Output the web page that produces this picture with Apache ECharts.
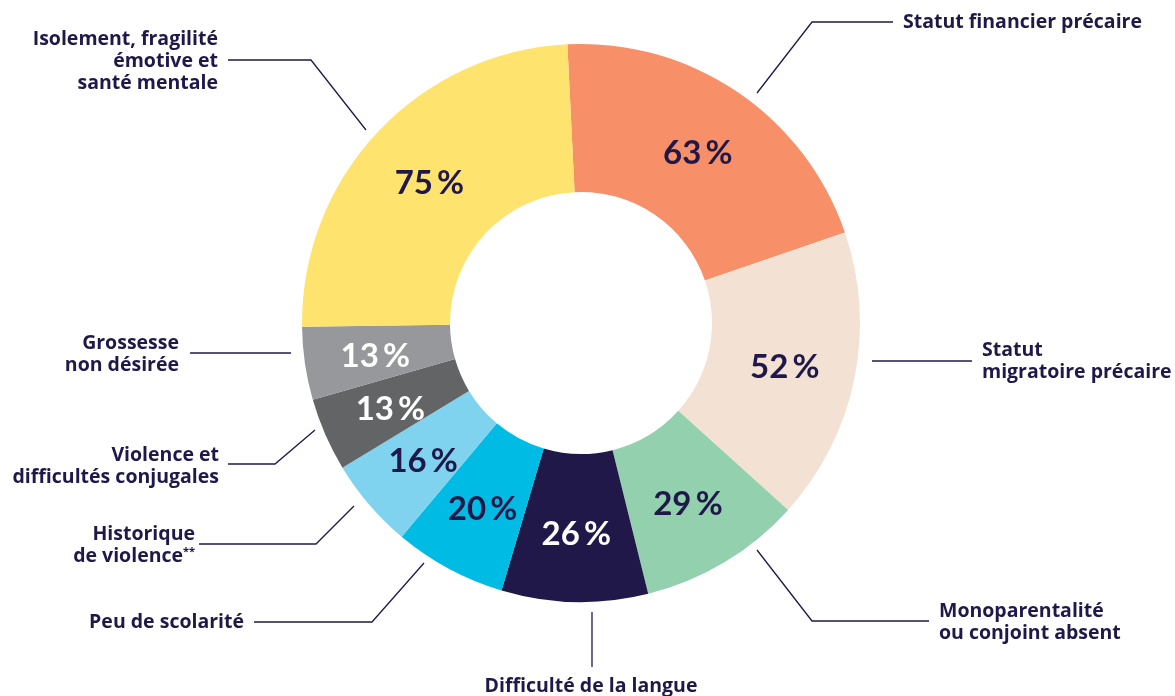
<!DOCTYPE html>
<html>
<head>
<meta charset="utf-8">
<script src="https://cdn.jsdelivr.net/npm/echarts@6/dist/echarts.min.js"></script>
<style>
  html, body { margin: 0; padding: 0; background: #fff; }
  #chart { width: 1175px; height: 696px; }
</style>
</head>
<body>
<div id="chart"></div>
<script>
// categories, clockwise from the top
const categories = [
  'Statut financier précaire',
  'Statut\nmigratoire précaire',
  'Monoparentalité\nou conjoint absent',
  'Difficulté de la langue',
  'Peu de scolarité',
  'Historique\nde violence{s|**}',
  'Violence et\ndifficultés conjugales',
  'Grossesse\nnon désirée',
  'Isolement, fragilité\némotive et\nsanté mentale'
]
const values = [63, 52, 29, 26, 20, 16, 13, 13, 75]

// styles
const colors = ['#F79068', '#F3E2D3', '#93D0AE', '#1F1848', '#00BCE4', '#7FD3EE', '#636466', '#97989B', '#FEE36E']
const valueColors = ['#1F1848', '#1F1848', '#1F1848', '#ffffff', '#1F1848', '#1F1848', '#ffffff', '#ffffff', '#1F1848']
const navy = '#1F1848'

// outside label placement: text anchor + leader line points
const labelAnchors = [
  [903, 22, 'left'], [982, 361, 'left'], [939, 622, 'left'], [591, 686, 'center'],
  [244, 622, 'right'], [195, 545, 'right'], [219, 466, 'right'], [179, 354, 'right'], [218, 61, 'right']
]
const leaderLines = [
  [[757, 93], [812, 22], [893, 22]],
  [[872, 361], [922, 361], [972, 361]],
  [[757, 550], [812, 621], [929, 621]],
  [[592, 612], [592, 640], [592, 667]],
  [[424, 563], [372, 622], [254, 622]],
  [[354, 506], [316, 544], [199, 544]],
  [[315, 430], [275, 464], [228, 464]],
  [[291, 353], [240, 353], [190, 353]],
  [[366, 130], [311, 60], [228, 60]]
]

const center = [581, 323]
const radius = [131, 279]
const startAngle = 92.8

const chart = echarts.init(document.getElementById('chart'))

const option = {
  animation: false,
  series: [
    {
      type: 'pie',
      center: center,
      radius: radius,
      startAngle: startAngle,
      clockwise: true,
      silent: true,
      avoidLabelOverlap: false,
      label: {
        show: true,
        position: 'inside',
        fontFamily: 'Lato',
        fontWeight: 'bold',
        fontSize: 33,
        offset: [0, 3],
        formatter: p => p.value + '\u2009%'
      },
      labelLine: { show: false },
      data: values.map((v, i) => ({
        value: v,
        name: categories[i],
        itemStyle: { color: colors[i] },
        label: { color: valueColors[i] }
      }))
    },
    {
      type: 'pie',
      center: center,
      radius: radius,
      startAngle: startAngle,
      clockwise: true,
      silent: true,
      avoidLabelOverlap: false,
      itemStyle: { color: 'transparent' },
      label: {
        show: true,
        position: 'outside',
        formatter: '{b}',
        fontFamily: 'Open Sans',
        fontWeight: 'bold',
        fontSize: 19.5,
        lineHeight: 22,
        color: navy,
        rich: {
          s: { fontFamily: 'Open Sans', fontWeight: 'bold', fontSize: 11, color: navy, lineHeight: 22, padding: [0, 0, 8, 0] }
        }
      },
      labelLine: {
        show: true,
        lineStyle: { color: navy, width: 1.3 }
      },
      labelLayout: params => {
        const i = params.dataIndex
        const a = labelAnchors[i]
        return {
          x: a[0],
          y: a[1],
          align: a[2],
          verticalAlign: 'middle',
          labelLinePoints: leaderLines[i]
        }
      },
      data: values.map((v, i) => ({ value: v, name: categories[i] }))
    }
  ]
}

chart.setOption(option)
</script>
</body>
</html>
